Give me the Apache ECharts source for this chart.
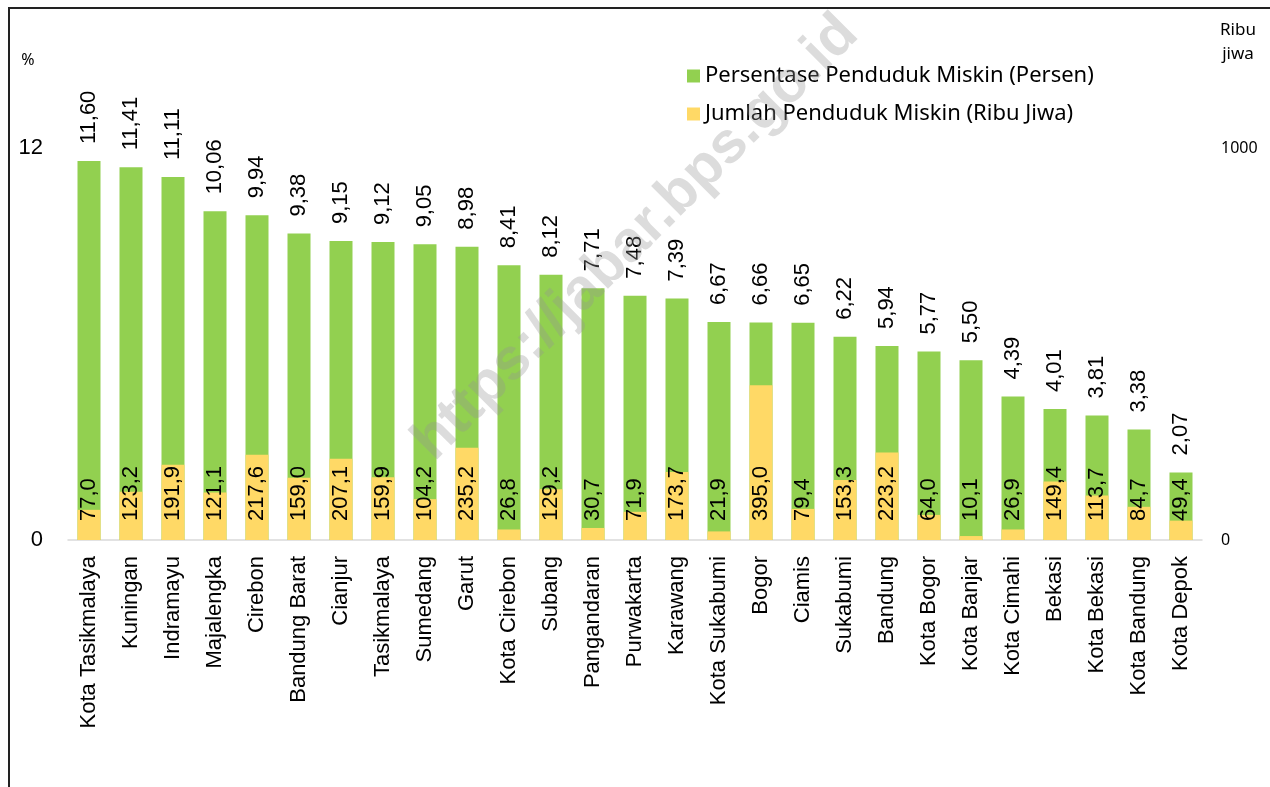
<!DOCTYPE html>
<html>
<head>
<meta charset="utf-8">
<script src="https://cdn.jsdelivr.net/npm/echarts@6/dist/echarts.min.js"></script>
<style>
  html, body { margin: 0; padding: 0; background: #fff; }
  #chart { width: 1270px; height: 787px; }
</style>
</head>
<body>
<div id="chart"></div>
<script>
var wilayah = ['Kota Tasikmalaya', 'Kuningan', 'Indramayu', 'Majalengka', 'Cirebon', 'Bandung Barat',
  'Cianjur', 'Tasikmalaya', 'Sumedang', 'Garut', 'Kota Cirebon', 'Subang', 'Pangandaran',
  'Purwakarta', 'Karawang', 'Kota Sukabumi', 'Bogor', 'Ciamis', 'Sukabumi', 'Bandung',
  'Kota Bogor', 'Kota Banjar', 'Kota Cimahi', 'Bekasi', 'Kota Bekasi', 'Kota Bandung', 'Kota Depok'];
var persen = [11.60, 11.41, 11.11, 10.06, 9.94, 9.38, 9.15, 9.12, 9.05, 8.98, 8.41, 8.12, 7.71,
  7.48, 7.39, 6.67, 6.66, 6.65, 6.22, 5.94, 5.77, 5.50, 4.39, 4.01, 3.81, 3.38, 2.07];
var jumlah = [77.0, 123.2, 191.9, 121.1, 217.6, 159.0, 207.1, 159.9, 104.2, 235.2, 26.8, 129.2, 30.7,
  71.9, 173.7, 21.9, 395.0, 79.4, 153.3, 223.2, 64.0, 10.1, 26.9, 149.4, 113.7, 84.7, 49.4];

var fontA = 'Liberation Sans, Arial, sans-serif';
var fontB = 'Noto Sans, sans-serif';

function koma(v, d) {
  return v.toFixed(d).replace('.', ',');
}

var chart = echarts.init(document.getElementById('chart'));
var option = {
  animation: false,
  grid: { left: 68, right: 68, top: 148, bottom: 247, containLabel: false },
  legend: {
    orient: 'vertical',
    left: 682,
    top: 60,
    itemWidth: 13,
    itemHeight: 13,
    itemGap: 16,
    icon: 'rect',
    textStyle: { fontFamily: fontB, fontSize: 22, color: '#000' },
    data: ['Persentase Penduduk Miskin (Persen)', 'Jumlah Penduduk Miskin (Ribu Jiwa)']
  },
  xAxis: {
    type: 'category',
    data: wilayah,
    axisLine: { lineStyle: { color: '#d9d9d9', width: 1.5 } },
    axisTick: { show: false },
    axisLabel: {
      rotate: 90,
      interval: 0,
      margin: 16,
      fontFamily: fontA,
      fontSize: 22,
      color: '#000'
    }
  },
  yAxis: [{
    type: 'value',
    min: 0,
    max: 12,
    interval: 12,
    splitLine: { show: false },
    axisLine: { show: false },
    axisTick: { show: false },
    axisLabel: { fontFamily: fontA, fontSize: 22, color: '#000', margin: 25 }
  }, {
    type: 'value',
    min: 0,
    max: 1000,
    interval: 1000,
    position: 'right',
    splitLine: { show: false },
    axisLine: { show: false },
    axisTick: { show: false },
    axisLabel: {
      fontFamily: fontB, fontSize: 16, color: '#000', margin: 19,
      formatter: function (v) { return String(v); }
    }
  }],
  series: [{
    name: 'Persentase Penduduk Miskin (Persen)',
    type: 'bar',
    yAxisIndex: 0,
    barWidth: 23,
    barGap: '-100%',
    data: persen,
    itemStyle: { color: '#92D050' },
    label: {
      show: true,
      position: 'top',
      rotate: 90,
      align: 'left',
      verticalAlign: 'middle',
      distance: 17,
      fontFamily: fontA,
      fontSize: 22,
      color: '#000',
      formatter: function (p) { return koma(p.value, 2); }
    }
  }, {
    name: 'Jumlah Penduduk Miskin (Ribu Jiwa)',
    type: 'bar',
    yAxisIndex: 1,
    barWidth: 23,
    barGap: '-100%',
    data: jumlah,
    itemStyle: { color: '#FFD966' },
    label: {
      show: true,
      position: 'insideBottom',
      rotate: 90,
      align: 'left',
      verticalAlign: 'middle',
      distance: 19,
      fontFamily: fontA,
      fontSize: 22,
      color: '#000',
      formatter: function (p) { return koma(p.value, 1); }
    }
  }],
  graphic: [{
    type: 'rect',
    shape: { x: 9, y: 8, width: 1400, height: 1000 },
    style: { fill: 'none', stroke: '#222', lineWidth: 2 },
    silent: true
  }, {
    type: 'text',
    x: 28,
    y: 52,
    style: { text: '%', fontFamily: fontB, fontSize: 16, fill: '#000', align: 'center' }
  }, {
    type: 'text',
    x: 1238,
    y: 18,
    style: { text: 'Ribu\njiwa', fontFamily: fontB, fontSize: 17, lineHeight: 24, fill: '#000', align: 'center' }
  }, {
    type: 'text',
    x: 636,
    y: 238,
    rotation: Math.PI / 4,
    z: 100,
    silent: true,
    style: {
      text: 'https://jabar.bps.go.id',
      fontFamily: fontA,
      fontWeight: 'bold',
      fontSize: 58,
      fill: 'rgba(150,150,150,0.33)',
      align: 'center',
      verticalAlign: 'middle'
    }
  }]
};
chart.setOption(option);
</script>
</body>
</html>
